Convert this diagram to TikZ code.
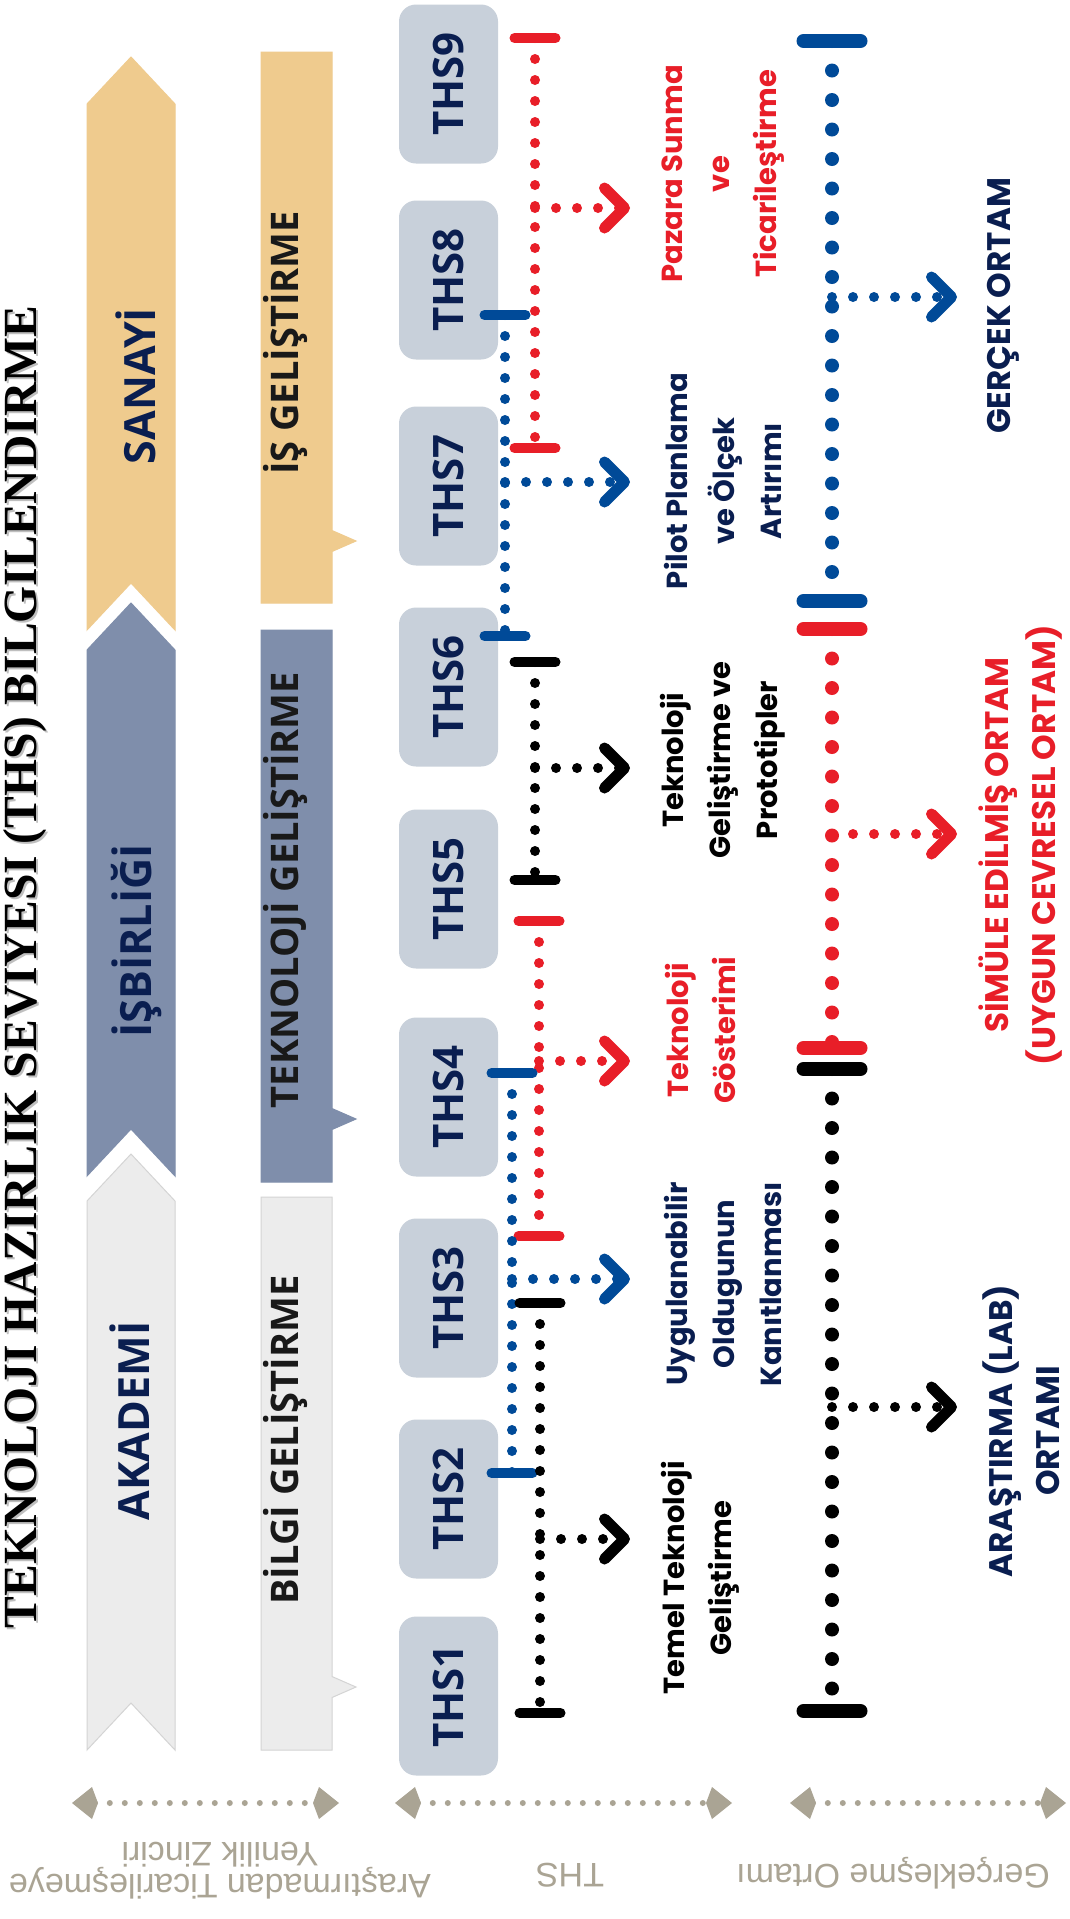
\documentclass[tikz,border=0pt]{standalone}
\usepackage{fontspec}
\setmainfont{Open Sans}
\newfontfamily\thsfont{Open Sans}
\newfontfamily\labelfont{Poppins}
\newfontfamily\titlefont{Liberation Serif}
\newfontfamily\notefont{Liberation Sans}
\usepackage{tikz}
\usetikzlibrary{positioning}
\usetikzlibrary{arrows.meta}
\usetikzlibrary{calc}
\definecolor{sanayi}{RGB}{239,203,142}
\definecolor{isbirligi}{RGB}{127,142,171}
\definecolor{akademi}{RGB}{236,236,236}
\definecolor{akademiline}{RGB}{212,212,212}
\definecolor{thsgray}{RGB}{200,208,218}
\definecolor{navy}{RGB}{10,30,80}
\definecolor{thsred}{RGB}{232,30,40}
\definecolor{thsblue}{RGB}{0,74,152}
\definecolor{taupe}{RGB}{170,164,148}

\tikzset{
  thsbox/.style={fill=thsgray, rounded corners=8.5pt, minimum width=79.5pt, minimum height=49.5pt,
    inner sep=0pt, rotate=90, text=navy, font=\thsfont\bfseries\fontsize{21}{21}\selectfont},
  sectortext/.style={rotate=90, text=navy, font=\thsfont\bfseries\fontsize{21.5}{21.5}\selectfont},
  stagetext/.style={rotate=90, text=black!90, font=\thsfont\bfseries\fontsize{19}{19}\selectfont},
  steptext/.style={rotate=90, align=center, font=\labelfont\bfseries\fontsize{14.5}{23.5}\selectfont},
  envtext/.style={rotate=90, align=center, inner sep=1pt, font=\labelfont\bfseries\fontsize{16.3}{23.5}\selectfont},
  notetext/.style={rotate=180, align=center, text=taupe, font=\notefont\fontsize{17}{16}\selectfont},
  tick/.style={line width=5pt, line cap=round},
  envtick/.style={line width=7pt, line cap=round},
  trackdots/.style={line width=5pt, line cap=round, dash pattern=on 0pt off 10.5pt},
  envdots/.style={line width=7pt, line cap=round, dash pattern=on 0pt off 14.75pt},
  chevron/.style={-{Straight Barb[length=10pt,width=20pt,line width=5.5pt,round]}},
  scalearrow/.style={taupe, line width=3pt, line cap=round, dash pattern=on 0pt off 7.5pt,
    {Kite[length=13pt,width=16pt,inset=3pt]}-{Kite[length=13pt,width=16pt,inset=3pt]}},
}

\begin{document}
\begin{tikzpicture}[x=0.5pt,y=-0.5pt]
	\useasboundingbox (0,0) rectangle (1070,1919);
	\fill[white] (0,0) rectangle (1070,1919);

	% title
	\node[rotate=90, anchor=base, text=black!25, font=\titlefont\bfseries\fontsize{23.8}{23.8}\selectfont]
	    at (39,969) {TEKNOLOJI HAZIRLIK SEVIYESI (THS) BILGILENDIRME};
	\node[rotate=90, anchor=base, font=\titlefont\bfseries\fontsize{23.8}{23.8}\selectfont]
	    (title) at (36,967) {TEKNOLOJI HAZIRLIK SEVIYESI (THS) BILGILENDIRME};

	% sector arrows and stage bars
	\foreach \c/\d/\t/\b in {sanayi/sanayi/57/630, isbirligi/isbirligi/603/1176, akademi/akademiline/1154/1750}
	    \filldraw[fill=\c, draw=\d, line width=0.5pt]
	        (131,\t) -- (175,\t+47) -- (175,\b) -- (131,\b-47) -- (87,\b) -- (87,\t+47) -- cycle;
	\foreach \c/\d/\t/\b/\p in {sanayi/sanayi/52/603/541, isbirligi/isbirligi/630/1182/1119, akademi/akademiline/1197/1750/1687}
	    \filldraw[fill=\c, draw=\d, line width=0.5pt]
	        (261,\t) -- (332,\t) -- (332,\p-10.5) -- (356,\p) -- (332,\p+10.5) -- (332,\b) -- (261,\b) -- cycle;

	\node[sectortext] (sanayi) at (136,386) {SANAYİ};
	\node[sectortext] (isbirligi) at (137,941) {İŞBİRLİĞİ};
	\node[sectortext] (akademi) at (130,1421) {AKADEMİ};
	\node[stagetext] (is) at (285,343) {İŞ GELİŞTİRME};
	\node[stagetext] (teknoloji) at (285,890) {TEKNOLOJİ GELİŞTİRME};
	\node[stagetext] (bilgi) at (285,1440) {BİLGİ GELİŞTİRME};

	% THS levels
	\foreach \n/\y in {1/1696,2/1499,3/1298,4/1097,5/889,6/687,7/486,8/280,9/84}
	    \node[thsbox] (ths\n) at (448.5,\y) {THS\n};

	% level ranges
	\foreach \t/\c/\x/\a/\b/\m in {r2/thsred/535/38/448/208, b2/thsblue/505/315/636/482,
	                               k2/black/535/662/880/768, r1/thsred/539/921/1236/1061,
	                               b1/thsblue/512/1073/1473/1279, k1/black/540/1303/1713/1539}{
	    \coordinate (\t-top) at (\x,\a);
	    \coordinate (\t-bot) at (\x,\b);
	    \coordinate (\t-mid) at (\x,\m);
	    \coordinate (\t-tip) at (630,\m);
	    \draw[trackdots,\c] (\t-top) -- (\t-bot);
	    \draw[tick,\c] ([xshift=-10.25pt]\t-top) -- ([xshift=10.25pt]\t-top);
	    \draw[tick,\c] ([xshift=-10.25pt]\t-bot) -- ([xshift=10.25pt]\t-bot);
	    \draw[trackdots,chevron,\c] (\t-mid) -- (\t-tip);
	}

	\node[steptext, text=thsred] (pazar) at (723,174) {Pazara Sunma\\ve\\Ticarileştirme};
	\node[steptext, text=navy] (pilot) at (723,481) {Pilot Planlama\\ve Ölçek\\Artırımı};
	\node[steptext, text=black] (prototip) at (723,760) {Teknoloji\\Geliştirme ve\\Prototipler};
	\node[steptext, text=thsred] (gosterim) at (700,1030) {Teknoloji\\Gösterimi};
	\node[steptext, text=navy] (kanit) at (723,1284) {Uygulanabilir\\Oldugunun\\Kanıtlanması};
	\node[steptext, text=black] (temel) at (700,1578) {Temel Teknoloji\\Geliştirme};

	% environments
	\foreach \t/\c/\a/\b/\m in {envb/thsblue/41/601/297, envr/thsred/629/1048/834, envk/black/1069/1711/1407}{
	    \coordinate (\t-top) at (832,\a);
	    \coordinate (\t-bot) at (832,\b);
	    \coordinate (\t-mid) at (832,\m);
	    \coordinate (\t-tip) at (957,\m);
	    \draw[envdots,\c] (\t-top) -- (\t-bot);
	    \draw[envtick,\c] ([xshift=-14.25pt]\t-top) -- ([xshift=14.25pt]\t-top);
	    \draw[envtick,\c] ([xshift=-14.25pt]\t-bot) -- ([xshift=14.25pt]\t-bot);
	    \draw[trackdots,chevron,\c] (\t-mid) -- (\t-tip);
	}

	\node[envtext, text=navy] (gercek) at (1003,306) {GERÇEK ORTAM};
	\node[envtext, text=thsred] (simule) at (1021,845) {SİMÜLE EDİLMİŞ ORTAM\\(UYGUN CEVRESEL ORTAM)};
	\node[envtext, text=navy] (lab) at (1021,1431) {ARAŞTIRMA (LAB)\\ORTAMI};

	% column keys
	\coordinate (zincir-l) at (72,1803);
	\coordinate (zincir-r) at (339,1803);
	\coordinate (seviye-l) at (395,1803);
	\coordinate (seviye-r) at (732,1803);
	\coordinate (ortam-l) at (790,1803);
	\coordinate (ortam-r) at (1066,1803);
	\draw[scalearrow] (zincir-l) -- (zincir-r);
	\draw[scalearrow] (seviye-l) -- (seviye-r);
	\draw[scalearrow] (ortam-l) -- (ortam-r);
	\node[notetext] (zincir) at (220,1871) {Araştırmadan Ticarileşmeye\\Yenilik Zinciri};
	\node[notetext] (seviye) at (570,1875) {THS};
	\node[notetext] (ortam) at (893,1873) {Gerçekleşme Ortamı};
\end{tikzpicture}
\end{document}
